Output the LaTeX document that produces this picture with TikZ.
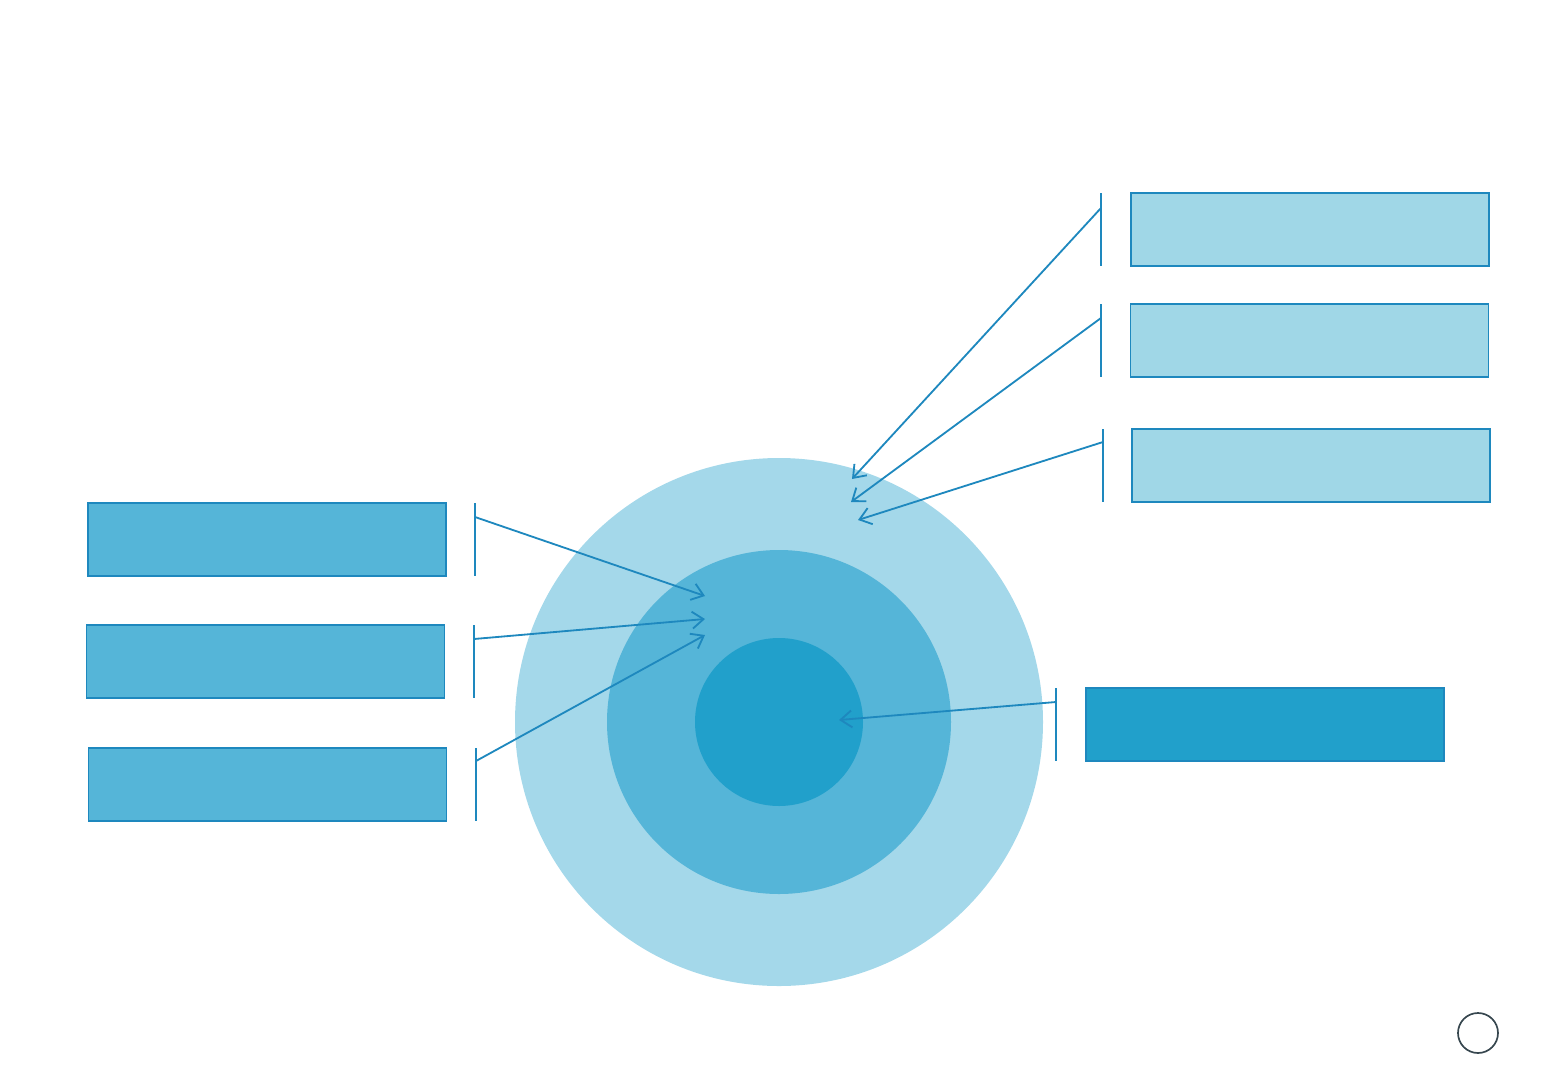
\documentclass[tikz,border=0pt]{standalone}
\usetikzlibrary{arrows.meta}
\definecolor{ringout}{HTML}{A4D8EA}
\definecolor{ringmid}{HTML}{55B5D8}
\definecolor{ringin}{HTML}{21A0CB}
\definecolor{boxlight}{HTML}{A0D7E7}
\definecolor{edge}{HTML}{1E88BE}
\definecolor{mark}{HTML}{37474F}
\tikzset{
  box/.style={draw=edge, line width=1.3pt, minimum width=8.95cm, minimum height=1.825cm, inner sep=0pt},
  bar/.style={draw=edge, line width=1.3pt},
  arr/.style={draw=edge, line width=1.3pt, -{Straight Barb[length=8pt,width=12pt,line width=1.3pt]}},
}
\begin{document}
\begin{tikzpicture}[x=0.025cm,y=-0.025cm]
\useasboundingbox (0,0) rectangle (1560,1080);
% rings
\fill[ringout] (779,722) circle[radius=264];
\fill[ringmid] (779,722) circle[radius=172];
\fill[ringin] (779,722) circle[radius=84];
% left boxes
\foreach \n / \x / \y / \bx / \ay in {1/267/539.5/475/517, 2/265.5/661.5/474/639, 3/267.5/784.5/476/761}
{
	\node[box, fill=ringmid] (l\n) at (\x,\y) {};
	\draw[bar] (\bx,{\y-36.5}) --+ (0,73);
	\coordinate (ls\n) at (\bx,\ay);
}
\coordinate (le1) at (705,596);
\coordinate (le2) at (705,619);
\coordinate (le3) at (705,635);
\foreach \n in {1,2,3}
	\draw[arr] (ls\n) -- (le\n);
% right boxes
\foreach \n / \x / \y / \bx / \ay in {1/1310/229.5/1101/208, 2/1309.5/340.5/1101/318, 3/1311/465.5/1103/442}
{
	\node[box, fill=boxlight] (r\n) at (\x,\y) {};
	\draw[bar] (\bx,{\y-36.5}) --+ (0,73);
	\coordinate (rs\n) at (\bx,\ay);
}
\coordinate (re1) at (852,479);
\coordinate (re2) at (851,502);
\coordinate (re3) at (858,520);
\foreach \n in {1,2,3}
	\draw[arr] (rs\n) -- (re\n);
% core box
\node[box, fill=ringin] (core) at (1265,724.5) {};
\draw[bar] (1056,688) --+ (0,73);
\coordinate (cs) at (1056,702);
\coordinate (ce) at (839,720);
\draw[arr] (cs) -- (ce);
% corner mark
\node[draw=mark, line width=1.2pt, circle, minimum size=1cm, inner sep=0pt] (dot) at (1478,1033) {};
\end{tikzpicture}
\end{document}
